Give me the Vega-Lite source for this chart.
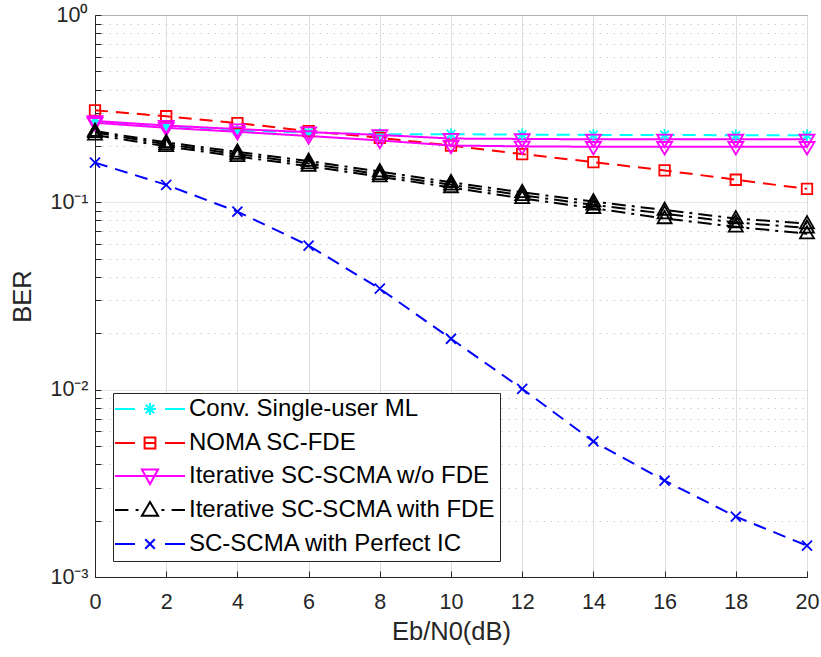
{
  "$schema": "https://vega.github.io/schema/vega-lite/v6.json",
  "width": 712,
  "height": 562,
  "autosize": {"type": "none"},
  "padding": {"left": 95, "top": 15, "right": 14, "bottom": 80},
  "background": "white",
  "config": {
    "view": {"stroke": "#262626", "strokeWidth": 1},
    "font": "Liberation Sans",
    "axis": {
      "labelFont": "Liberation Sans", "labelFontSize": 21.5, "labelColor": "#262626",
      "titleFont": "Liberation Sans", "titleFontSize": 25.5, "titleFontWeight": "normal", "titleColor": "#262626",
      "domainColor": "#262626", "tickColor": "#262626", "tickWidth": 1
    }
  },
  "data": {"values": [
    {"snr":0,"ber":0.271,"series":"Conv. Single-user ML","curve":"C1"},
    {"snr":2,"ber":0.255,"series":"Conv. Single-user ML","curve":"C1"},
    {"snr":4,"ber":0.241,"series":"Conv. Single-user ML","curve":"C1"},
    {"snr":6,"ber":0.236,"series":"Conv. Single-user ML","curve":"C1"},
    {"snr":8,"ber":0.231,"series":"Conv. Single-user ML","curve":"C1"},
    {"snr":10,"ber":0.231,"series":"Conv. Single-user ML","curve":"C1"},
    {"snr":12,"ber":0.230,"series":"Conv. Single-user ML","curve":"C1"},
    {"snr":14,"ber":0.229,"series":"Conv. Single-user ML","curve":"C1"},
    {"snr":16,"ber":0.229,"series":"Conv. Single-user ML","curve":"C1"},
    {"snr":18,"ber":0.228,"series":"Conv. Single-user ML","curve":"C1"},
    {"snr":20,"ber":0.228,"series":"Conv. Single-user ML","curve":"C1"},
    {"snr":0,"ber":0.310,"series":"NOMA SC-FDE","curve":"N1"},
    {"snr":2,"ber":0.288,"series":"NOMA SC-FDE","curve":"N1"},
    {"snr":4,"ber":0.265,"series":"NOMA SC-FDE","curve":"N1"},
    {"snr":6,"ber":0.240,"series":"NOMA SC-FDE","curve":"N1"},
    {"snr":8,"ber":0.221,"series":"NOMA SC-FDE","curve":"N1"},
    {"snr":10,"ber":0.201,"series":"NOMA SC-FDE","curve":"N1"},
    {"snr":12,"ber":0.181,"series":"NOMA SC-FDE","curve":"N1"},
    {"snr":14,"ber":0.164,"series":"NOMA SC-FDE","curve":"N1"},
    {"snr":16,"ber":0.148,"series":"NOMA SC-FDE","curve":"N1"},
    {"snr":18,"ber":0.132,"series":"NOMA SC-FDE","curve":"N1"},
    {"snr":20,"ber":0.118,"series":"NOMA SC-FDE","curve":"N1"},
    {"snr":0,"ber":0.272,"series":"Iterative SC-SCMA w/o FDE","curve":"M1"},
    {"snr":2,"ber":0.257,"series":"Iterative SC-SCMA w/o FDE","curve":"M1"},
    {"snr":4,"ber":0.246,"series":"Iterative SC-SCMA w/o FDE","curve":"M1"},
    {"snr":6,"ber":0.237,"series":"Iterative SC-SCMA w/o FDE","curve":"M1"},
    {"snr":8,"ber":0.229,"series":"Iterative SC-SCMA w/o FDE","curve":"M1"},
    {"snr":10,"ber":0.219,"series":"Iterative SC-SCMA w/o FDE","curve":"M1"},
    {"snr":12,"ber":0.218,"series":"Iterative SC-SCMA w/o FDE","curve":"M1"},
    {"snr":14,"ber":0.217,"series":"Iterative SC-SCMA w/o FDE","curve":"M1"},
    {"snr":16,"ber":0.217,"series":"Iterative SC-SCMA w/o FDE","curve":"M1"},
    {"snr":18,"ber":0.217,"series":"Iterative SC-SCMA w/o FDE","curve":"M1"},
    {"snr":20,"ber":0.217,"series":"Iterative SC-SCMA w/o FDE","curve":"M1"},
    {"snr":0,"ber":0.266,"series":"Iterative SC-SCMA w/o FDE","curve":"M2"},
    {"snr":2,"ber":0.250,"series":"Iterative SC-SCMA w/o FDE","curve":"M2"},
    {"snr":4,"ber":0.238,"series":"Iterative SC-SCMA w/o FDE","curve":"M2"},
    {"snr":6,"ber":0.226,"series":"Iterative SC-SCMA w/o FDE","curve":"M2"},
    {"snr":8,"ber":0.214,"series":"Iterative SC-SCMA w/o FDE","curve":"M2"},
    {"snr":10,"ber":0.201,"series":"Iterative SC-SCMA w/o FDE","curve":"M2"},
    {"snr":12,"ber":0.199,"series":"Iterative SC-SCMA w/o FDE","curve":"M2"},
    {"snr":14,"ber":0.198,"series":"Iterative SC-SCMA w/o FDE","curve":"M2"},
    {"snr":16,"ber":0.198,"series":"Iterative SC-SCMA w/o FDE","curve":"M2"},
    {"snr":18,"ber":0.198,"series":"Iterative SC-SCMA w/o FDE","curve":"M2"},
    {"snr":20,"ber":0.198,"series":"Iterative SC-SCMA w/o FDE","curve":"M2"},
    {"snr":0,"ber":0.240,"series":"Iterative SC-SCMA with FDE","curve":"B1"},
    {"snr":2,"ber":0.209,"series":"Iterative SC-SCMA with FDE","curve":"B1"},
    {"snr":4,"ber":0.186,"series":"Iterative SC-SCMA with FDE","curve":"B1"},
    {"snr":6,"ber":0.166,"series":"Iterative SC-SCMA with FDE","curve":"B1"},
    {"snr":8,"ber":0.146,"series":"Iterative SC-SCMA with FDE","curve":"B1"},
    {"snr":10,"ber":0.128,"series":"Iterative SC-SCMA with FDE","curve":"B1"},
    {"snr":12,"ber":0.113,"series":"Iterative SC-SCMA with FDE","curve":"B1"},
    {"snr":14,"ber":0.101,"series":"Iterative SC-SCMA with FDE","curve":"B1"},
    {"snr":16,"ber":0.091,"series":"Iterative SC-SCMA with FDE","curve":"B1"},
    {"snr":18,"ber":0.082,"series":"Iterative SC-SCMA with FDE","curve":"B1"},
    {"snr":20,"ber":0.077,"series":"Iterative SC-SCMA with FDE","curve":"B1"},
    {"snr":0,"ber":0.236,"series":"Iterative SC-SCMA with FDE","curve":"B2"},
    {"snr":2,"ber":0.204,"series":"Iterative SC-SCMA with FDE","curve":"B2"},
    {"snr":4,"ber":0.181,"series":"Iterative SC-SCMA with FDE","curve":"B2"},
    {"snr":6,"ber":0.161,"series":"Iterative SC-SCMA with FDE","curve":"B2"},
    {"snr":8,"ber":0.141,"series":"Iterative SC-SCMA with FDE","curve":"B2"},
    {"snr":10,"ber":0.124,"series":"Iterative SC-SCMA with FDE","curve":"B2"},
    {"snr":12,"ber":0.109,"series":"Iterative SC-SCMA with FDE","curve":"B2"},
    {"snr":14,"ber":0.097,"series":"Iterative SC-SCMA with FDE","curve":"B2"},
    {"snr":16,"ber":0.087,"series":"Iterative SC-SCMA with FDE","curve":"B2"},
    {"snr":18,"ber":0.078,"series":"Iterative SC-SCMA with FDE","curve":"B2"},
    {"snr":20,"ber":0.073,"series":"Iterative SC-SCMA with FDE","curve":"B2"},
    {"snr":0,"ber":0.229,"series":"Iterative SC-SCMA with FDE","curve":"B3"},
    {"snr":2,"ber":0.199,"series":"Iterative SC-SCMA with FDE","curve":"B3"},
    {"snr":4,"ber":0.176,"series":"Iterative SC-SCMA with FDE","curve":"B3"},
    {"snr":6,"ber":0.156,"series":"Iterative SC-SCMA with FDE","curve":"B3"},
    {"snr":8,"ber":0.137,"series":"Iterative SC-SCMA with FDE","curve":"B3"},
    {"snr":10,"ber":0.120,"series":"Iterative SC-SCMA with FDE","curve":"B3"},
    {"snr":12,"ber":0.105,"series":"Iterative SC-SCMA with FDE","curve":"B3"},
    {"snr":14,"ber":0.093,"series":"Iterative SC-SCMA with FDE","curve":"B3"},
    {"snr":16,"ber":0.082,"series":"Iterative SC-SCMA with FDE","curve":"B3"},
    {"snr":18,"ber":0.074,"series":"Iterative SC-SCMA with FDE","curve":"B3"},
    {"snr":20,"ber":0.068,"series":"Iterative SC-SCMA with FDE","curve":"B3"},
    {"snr":0,"ber":0.163,"series":"SC-SCMA with Perfect IC","curve":"P1"},
    {"snr":2,"ber":0.124,"series":"SC-SCMA with Perfect IC","curve":"P1"},
    {"snr":4,"ber":0.0892,"series":"SC-SCMA with Perfect IC","curve":"P1"},
    {"snr":6,"ber":0.0588,"series":"SC-SCMA with Perfect IC","curve":"P1"},
    {"snr":8,"ber":0.0346,"series":"SC-SCMA with Perfect IC","curve":"P1"},
    {"snr":10,"ber":0.0187,"series":"SC-SCMA with Perfect IC","curve":"P1"},
    {"snr":12,"ber":0.0101,"series":"SC-SCMA with Perfect IC","curve":"P1"},
    {"snr":14,"ber":0.00529,"series":"SC-SCMA with Perfect IC","curve":"P1"},
    {"snr":16,"ber":0.00327,"series":"SC-SCMA with Perfect IC","curve":"P1"},
    {"snr":18,"ber":0.0021,"series":"SC-SCMA with Perfect IC","curve":"P1"},
    {"snr":20,"ber":0.00147,"series":"SC-SCMA with Perfect IC","curve":"P1"}
  ]},
  "encoding": {
    "x": {
      "field": "snr", "type": "quantitative",
      "scale": {"domain": [0, 20], "nice": false, "zero": false},
      "axis": {
        "title": "Eb/N0(dB)", "values": [0,2,4,6,8,10,12,14,16,18,20],
        "grid": true, "gridColor": "#dedede", "tickSize": -6, "labelPadding": 20,
        "labelFlush": false, "labelOverlap": false, "titlePadding": 7
      }
    },
    "y": {
      "field": "ber", "type": "quantitative",
      "scale": {"type": "log", "domain": [0.001, 1], "nice": false},
      "axis": {
        "title": "BER",
        "values": [0.001,0.002,0.003,0.004,0.005,0.006,0.007,0.008,0.009,0.01,0.02,0.03,0.04,0.05,0.06,0.07,0.08,0.09,0.1,0.2,0.3,0.4,0.5,0.6,0.7,0.8,0.9,1],
        "labelExpr": "datum.value == 1 ? '10⁰' : datum.value == 0.1 ? '10⁻¹' : datum.value == 0.01 ? '10⁻²' : datum.value == 0.001 ? '10⁻³' : ''",
        "labelOverlap": false, "labelFlush": false,
        "grid": true,
        "gridColor": {"condition": {"test": "datum.value == 1 || datum.value == 0.1 || datum.value == 0.01 || datum.value == 0.001", "value": "#dedede"}, "value": "#cdcdcd"},
        "gridDash": {"condition": {"test": "datum.value == 1 || datum.value == 0.1 || datum.value == 0.01 || datum.value == 0.001", "value": [1, 0]}, "value": [1.5, 5.5]},
        "tickSize": -6,
        "labelPadding": 13,
        "titlePadding": 14
      }
    },
    "color": {
      "field": "series", "type": "nominal",
      "scale": {
        "domain": ["Conv. Single-user ML", "NOMA SC-FDE", "Iterative SC-SCMA w/o FDE", "Iterative SC-SCMA with FDE", "SC-SCMA with Perfect IC"],
        "range": ["#00ffff", "#ff0000", "#ff00ff", "#000000", "#0000ff"]
      },
      "legend": {
        "title": null, "orient": "none", "legendX": 18, "legendY": 378,
        "symbolSize": 144, "symbolStrokeWidth": 2, "symbolOffset": 21, "labelOffset": 27,
        "labelFont": "Liberation Sans", "labelFontSize": 24, "labelColor": "#000000", "labelLimit": 0,
        "padding": 4, "rowPadding": 8, "fillColor": "#ffffff", "strokeColor": "#262626",
        "encode": {
          "symbols": {
            "update": {
              "shape": {"signal": "datum.value === 'Conv. Single-user ML' ? 'M0,-1.35M0,1.35M-5.83,0H-2.5M2.5,0H5.83M0,-1V1M-1,0H1M-0.7,-0.7L0.7,0.7M-0.7,0.7L0.7,-0.7' : datum.value === 'NOMA SC-FDE' ? 'M0,-1.35M0,1.35M-5.83,0H-2.5M-0.9,0H0.9M2.5,0H5.83M-0.9,-0.9H0.9V0.9H-0.9Z' : datum.value === 'Iterative SC-SCMA w/o FDE' ? 'M-5.83,0H5.83M-1.35,-1.1H1.35L0,1.35Z' : datum.value === 'Iterative SC-SCMA with FDE' ? 'M0,1.35M-5.83,0H-3.6M-2.4,0H-1.9M1.9,0H2.4M3.6,0H5.83M-1.35,0.95H1.35L0,-1.35Z' : 'M0,-1.35M0,1.35M-5.83,0H-2.5M2.5,0H5.83M-0.8,-0.8L0.8,0.8M-0.8,0.8L0.8,-0.8'"},
              "fill": {"value": "transparent"},
              "stroke": {"scale": "color", "field": "value"},
              "strokeWidth": {"value": 2},
              "opacity": {"value": 1}
            }
          }
        }
      }
    }
  },
  "layer": [
    {
      "mark": {"type": "line", "strokeWidth": 2},
      "encoding": {
        "strokeDash": {
          "field": "curve", "type": "nominal", "legend": null,
          "scale": {
            "domain": ["C1", "N1", "M1", "M2", "B1", "B2", "B3", "P1"],
            "range": [[13, 8], [13, 8], [1, 0], [1, 0], [14, 6, 3, 6], [14, 6, 3, 6], [14, 6, 3, 6], [13, 8]]
          }
        }
      }
    },
    {
      "mark": {"type": "point", "filled": false, "size": 100, "strokeWidth": 1.8, "opacity": 1},
      "encoding": {
        "shape": {
          "field": "curve", "type": "nominal", "legend": null,
          "scale": {
            "domain": ["C1", "N1", "M1", "M2", "B1", "B2", "B3", "P1"],
            "range": [
              "M0,-1.2V1.2M-1.2,0H1.2M-0.85,-0.85L0.85,0.85M-0.85,0.85L0.85,-0.85",
              "M-1.05,-1.05H1.05V1.05H-1.05Z",
              "M-1.5,-0.95H1.5L0,1.55Z",
              "M-1.5,-0.95H1.5L0,1.55Z",
              "M-1.4,0.95H1.4L0,-1.5Z",
              "M-1.4,0.95H1.4L0,-1.5Z",
              "M-1.4,0.95H1.4L0,-1.5Z",
              "M-1,-1L1,1M-1,1L1,-1"
            ]
          }
        }
      }
    }
  ]
}
